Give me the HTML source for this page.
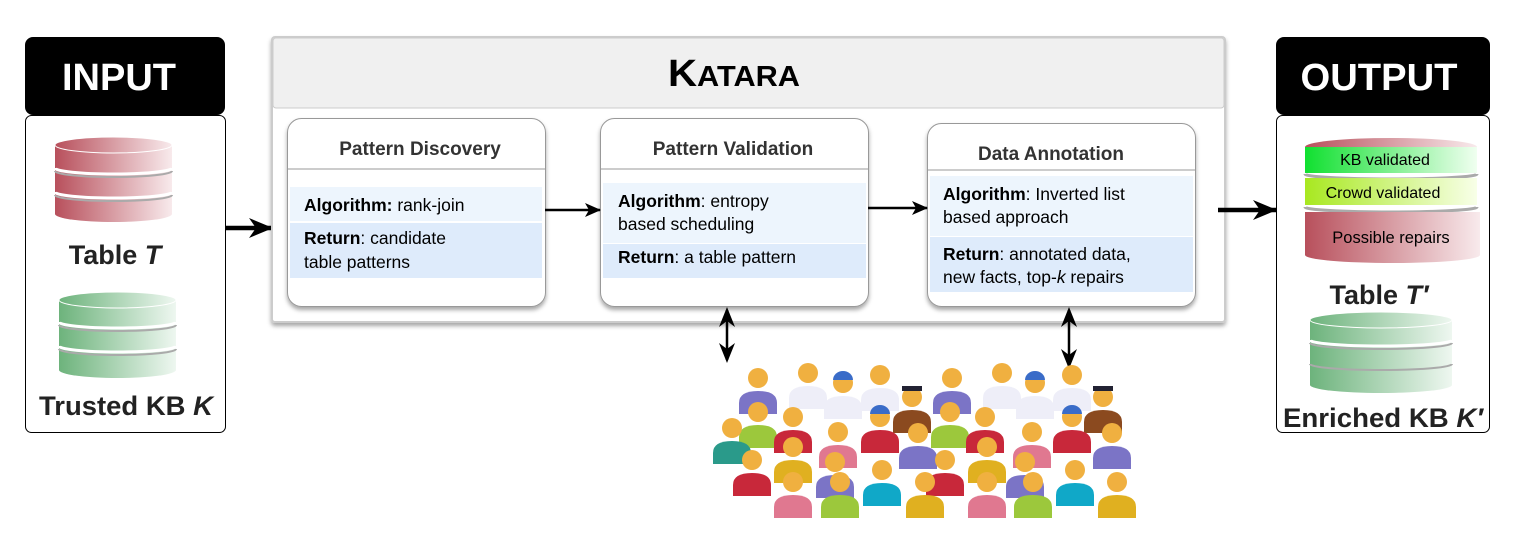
<!DOCTYPE html>
<html><head><meta charset="utf-8"><style>
body{margin:0;background:#fff;}
svg{display:block;font-family:"Liberation Sans",Arial,sans-serif;}
</style></head><body>
<svg width="1520" height="538" viewBox="0 0 1520 538" xmlns="http://www.w3.org/2000/svg">
<defs>
<linearGradient id="red" x1="0" x2="1"><stop offset="0" stop-color="#b8505c"/><stop offset="1" stop-color="#f8eaec"/></linearGradient>
<linearGradient id="grn" x1="0" x2="1"><stop offset="0" stop-color="#6db37c"/><stop offset="1" stop-color="#eef7f0"/></linearGradient>
<linearGradient id="kb" x1="0" x2="1"><stop offset="0" stop-color="#10e030"/><stop offset="1" stop-color="#f0fff0"/></linearGradient>
<linearGradient id="cw" x1="0" x2="1"><stop offset="0" stop-color="#a8e820"/><stop offset="1" stop-color="#f8ffe8"/></linearGradient>
<marker id="ah" markerWidth="16" markerHeight="14" refX="15" refY="7" orient="auto" markerUnits="userSpaceOnUse"><path d="M0,0 L16,7 L0,14 L4,7z" fill="#000"/></marker>
<marker id="ahb" markerWidth="24" markerHeight="22" refX="23" refY="11" orient="auto" markerUnits="userSpaceOnUse"><path d="M0,1 L24,11 L0,21 L7,11z" fill="#000"/></marker>
<filter id="sh" x="-5%" y="-5%" width="110%" height="115%"><feDropShadow dx="0" dy="3" stdDeviation="2" flood-color="#000" flood-opacity="0.35"/></filter>
</defs>

<!-- INPUT -->
<rect x="25" y="37" width="200" height="78" rx="8" fill="#000"/>
<text x="119" y="90" text-anchor="middle" font-size="38" font-weight="bold" fill="#fff" textLength="114" lengthAdjust="spacingAndGlyphs">INPUT</text>
<rect x="25.5" y="115.5" width="200" height="317" rx="6" fill="#fff" stroke="#000"/>
<g>
<path d="M55,145 A58.5,8 0 0 1 172,145 L172,214 A58.5,8 0 0 1 55,214 Z" fill="url(#red)"/>
<ellipse cx="113.5" cy="145" rx="58.5" ry="8" fill="url(#red)" stroke="#fff" stroke-width="1"/>
<path d="M55,168 A58.5,6 0 0 0 172,168" fill="none" stroke="#fff" stroke-width="3"/>
<path d="M55,171 A58.5,6 0 0 0 172,171" fill="none" stroke="#aaa" stroke-width="2"/>
<path d="M55,192 A58.5,6 0 0 0 172,192" fill="none" stroke="#fff" stroke-width="3"/>
<path d="M55,195 A58.5,6 0 0 0 172,195" fill="none" stroke="#aaa" stroke-width="2"/>
</g>
<text x="115" y="264" text-anchor="middle" font-size="27" font-weight="bold" fill="#222">Table <tspan font-style="italic">T</tspan></text>
<g>
<path d="M59,300 A58.5,8 0 0 1 176,300 L176,370 A58.5,8 0 0 1 59,370 Z" fill="url(#grn)"/>
<ellipse cx="117.5" cy="300" rx="58.5" ry="8" fill="url(#grn)" stroke="#fff"/>
<path d="M59,322 A58.5,6 0 0 0 176,322" fill="none" stroke="#fff" stroke-width="3"/>
<path d="M59,325 A58.5,6 0 0 0 176,325" fill="none" stroke="#aaa" stroke-width="2"/>
<path d="M59,346 A58.5,6 0 0 0 176,346" fill="none" stroke="#fff" stroke-width="3"/>
<path d="M59,349 A58.5,6 0 0 0 176,349" fill="none" stroke="#aaa" stroke-width="2"/>
</g>
<text x="126" y="415" text-anchor="middle" font-size="27" font-weight="bold" fill="#222" textLength="174" lengthAdjust="spacingAndGlyphs">Trusted KB <tspan font-style="italic">K</tspan></text>

<line x1="225" y1="228" x2="272" y2="228" stroke="#000" stroke-width="4.5" marker-end="url(#ahb)"/>

<!-- KATARA panel -->
<rect x="272" y="37" width="953" height="285" rx="3" fill="#fff" stroke="#ccc" stroke-width="2" filter="url(#sh)"/>
<rect x="273" y="38" width="951" height="70" rx="3" fill="#f0f0f0" stroke="#ccc"/>
<text x="734" y="86" text-anchor="middle" font-size="38" font-weight="bold" fill="#000" textLength="132" lengthAdjust="spacingAndGlyphs">K<tspan font-size="29">ATARA</tspan></text>

<g filter="url(#sh)">
<rect x="287.5" y="118.5" width="258" height="188" rx="14" fill="#fff" stroke="#999"/>
<rect x="600.5" y="118.5" width="268" height="188" rx="14" fill="#fff" stroke="#999"/>
<rect x="927.5" y="123.5" width="268" height="183" rx="14" fill="#fff" stroke="#999"/>
</g>
<text x="420" y="155" text-anchor="middle" font-size="19" font-weight="bold" fill="#333">Pattern Discovery</text>
<line x1="288" y1="169" x2="545" y2="169" stroke="#999"/>
<rect x="290" y="187" width="252" height="34" fill="#edf5fd"/>
<rect x="290" y="223" width="252" height="55" fill="#deebfb"/>
<text x="304" y="211" font-size="17.5" fill="#000"><tspan font-weight="bold">Algorithm:</tspan> rank-join</text>
<text x="304" y="244" font-size="17.5" fill="#000"><tspan font-weight="bold">Return</tspan>: candidate</text>
<text x="304" y="268" font-size="17.5" fill="#000">table patterns</text>
<text x="733" y="155" text-anchor="middle" font-size="19" font-weight="bold" fill="#333">Pattern Validation</text>
<line x1="601" y1="169" x2="868" y2="169" stroke="#999"/>
<rect x="603" y="183" width="263" height="60" fill="#edf5fd"/>
<rect x="603" y="244" width="263" height="34" fill="#deebfb"/>
<text x="618" y="207" font-size="17.5" fill="#000"><tspan font-weight="bold">Algorithm</tspan>: entropy</text>
<text x="618" y="230" font-size="17.5" fill="#000">based scheduling</text>
<text x="618" y="263" font-size="17.5" fill="#000"><tspan font-weight="bold">Return</tspan>: a  table pattern</text>
<text x="1051" y="160" text-anchor="middle" font-size="19" font-weight="bold" fill="#333">Data Annotation</text>
<line x1="928" y1="170" x2="1195" y2="170" stroke="#999"/>
<rect x="930" y="176" width="263" height="60" fill="#edf5fd"/>
<rect x="930" y="237" width="263" height="55" fill="#deebfb"/>
<text x="943" y="200" font-size="17.5" fill="#000"><tspan font-weight="bold">Algorithm</tspan>: Inverted list</text>
<text x="943" y="223" font-size="17.5" fill="#000">based approach</text>
<text x="943" y="260" font-size="17.5" fill="#000"><tspan font-weight="bold">Return</tspan>: annotated data,</text>
<text x="943" y="283" font-size="17.5" fill="#000">new facts, top-<tspan font-style="italic">k</tspan> repairs</text>

<line x1="545" y1="210" x2="600" y2="210" stroke="#000" stroke-width="2.5" marker-end="url(#ah)"/>
<line x1="868" y1="208" x2="927" y2="208" stroke="#000" stroke-width="2.5" marker-end="url(#ah)"/>
<line x1="1218" y1="210" x2="1276" y2="210" stroke="#000" stroke-width="4.5" marker-end="url(#ahb)"/>

<line x1="727" y1="310" x2="727" y2="360" stroke="#000" stroke-width="2.5"/>
<path d="M727,307 L719,327 L727,321 L735,327z M727,363 L719,343 L727,349 L735,343z" fill="#000"/>
<line x1="1069" y1="310" x2="1069" y2="366" stroke="#000" stroke-width="2.5"/>
<path d="M1069,307 L1061,327 L1069,321 L1077,327z M1069,369 L1061,349 L1069,355 L1077,349z" fill="#000"/>

<!-- OUTPUT -->
<rect x="1276" y="37" width="214" height="78" rx="8" fill="#000"/>
<text x="1379" y="90" text-anchor="middle" font-size="38" font-weight="bold" fill="#fff" textLength="157" lengthAdjust="spacingAndGlyphs">OUTPUT</text>
<rect x="1276.5" y="115.5" width="213" height="317" rx="6" fill="#fff" stroke="#000"/>
<ellipse cx="1391" cy="147" rx="86" ry="9" fill="url(#red)"/>
<rect x="1305" y="147" width="172" height="26" fill="url(#kb)"/>
<text x="1385" y="165" text-anchor="middle" font-size="16" fill="#000">KB validated</text>
<path d="M1305,174 A86,5 0 0 0 1477,174" fill="none" stroke="#aaa" stroke-width="3"/>
<rect x="1305" y="178" width="172" height="27" fill="url(#cw)"/>
<text x="1383" y="198" text-anchor="middle" font-size="16" fill="#000">Crowd validated</text>
<path d="M1305,207 A86,5 0 0 0 1477,207" fill="none" stroke="#aaa" stroke-width="3"/>
<path d="M1305,212 L1480,212 L1480,255 A87,8 0 0 1 1305,255 Z" fill="url(#red)"/>
<text x="1391" y="243" text-anchor="middle" font-size="16.5" fill="#000">Possible repairs</text>
<text x="1379" y="304" text-anchor="middle" font-size="27" font-weight="bold" fill="#222">Table <tspan font-style="italic">T′</tspan></text>
<g>
<path d="M1310,320 A71,8 0 0 1 1452,320 L1452,385 A71,8 0 0 1 1310,385 Z" fill="url(#grn)"/>
<ellipse cx="1381" cy="320" rx="71" ry="8" fill="url(#grn)" stroke="#fff"/>
<path d="M1310,340 A71,6 0 0 0 1452,340" fill="none" stroke="#fff" stroke-width="3"/>
<path d="M1310,343 A71,6 0 0 0 1452,343" fill="none" stroke="#aaa" stroke-width="2"/>
<path d="M1310,364 A71,6 0 0 0 1452,364" fill="none" stroke="#aaa" stroke-width="2"/>
</g>
<text x="1383" y="427" text-anchor="middle" font-size="27" font-weight="bold" fill="#222" textLength="200" lengthAdjust="spacingAndGlyphs">Enriched KB <tspan font-style="italic">K′</tspan></text>

<g id="crowd">
<path d="M739,403 q0,-12 19,-12 q19,0 19,12 v11 h-38z" fill="#7b74c6"/><circle cx="758" cy="378" r="10" fill="#f0b040"/>
<path d="M789,398 q0,-12 19,-12 q19,0 19,12 v11 h-38z" fill="#eeeef8"/><circle cx="808" cy="373" r="10" fill="#f0b040"/>
<path d="M824,408 q0,-12 19,-12 q19,0 19,12 v11 h-38z" fill="#eeeef8"/><circle cx="843" cy="383" r="10" fill="#f0b040"/><path d="M833,380 a10,9 0 0 1 20,0z" fill="#3a6cc8"/>
<path d="M861,400 q0,-12 19,-12 q19,0 19,12 v11 h-38z" fill="#eeeef8"/><circle cx="880" cy="375" r="10" fill="#f0b040"/>
<path d="M893,422 q0,-12 19,-12 q19,0 19,12 v11 h-38z" fill="#8b4a1f"/><circle cx="912" cy="397" r="10" fill="#f0b040"/><rect x="902" y="386" width="20" height="5" fill="#223"/>
<path d="M933,403 q0,-12 19,-12 q19,0 19,12 v11 h-38z" fill="#7b74c6"/><circle cx="952" cy="378" r="10" fill="#f0b040"/>
<path d="M983,398 q0,-12 19,-12 q19,0 19,12 v11 h-38z" fill="#eeeef8"/><circle cx="1002" cy="373" r="10" fill="#f0b040"/>
<path d="M1016,408 q0,-12 19,-12 q19,0 19,12 v11 h-38z" fill="#eeeef8"/><circle cx="1035" cy="383" r="10" fill="#f0b040"/><path d="M1025,380 a10,9 0 0 1 20,0z" fill="#3a6cc8"/>
<path d="M1053,400 q0,-12 19,-12 q19,0 19,12 v11 h-38z" fill="#eeeef8"/><circle cx="1072" cy="375" r="10" fill="#f0b040"/>
<path d="M1084,422 q0,-12 19,-12 q19,0 19,12 v11 h-38z" fill="#8b4a1f"/><circle cx="1103" cy="397" r="10" fill="#f0b040"/><rect x="1093" y="386" width="20" height="5" fill="#223"/>
<path d="M739,437 q0,-12 19,-12 q19,0 19,12 v11 h-38z" fill="#9cc83c"/><circle cx="758" cy="412" r="10" fill="#f0b040"/>
<path d="M774,442 q0,-12 19,-12 q19,0 19,12 v11 h-38z" fill="#c8283a"/><circle cx="793" cy="417" r="10" fill="#f0b040"/>
<path d="M861,442 q0,-12 19,-12 q19,0 19,12 v11 h-38z" fill="#c8283a"/><circle cx="880" cy="417" r="10" fill="#f0b040"/><path d="M870,414 a10,9 0 0 1 20,0z" fill="#3a6cc8"/>
<path d="M931,437 q0,-12 19,-12 q19,0 19,12 v11 h-38z" fill="#9cc83c"/><circle cx="950" cy="412" r="10" fill="#f0b040"/>
<path d="M966,442 q0,-12 19,-12 q19,0 19,12 v11 h-38z" fill="#c8283a"/><circle cx="985" cy="417" r="10" fill="#f0b040"/>
<path d="M1053,442 q0,-12 19,-12 q19,0 19,12 v11 h-38z" fill="#c8283a"/><circle cx="1072" cy="417" r="10" fill="#f0b040"/><path d="M1062,414 a10,9 0 0 1 20,0z" fill="#3a6cc8"/>
<path d="M713,453 q0,-12 19,-12 q19,0 19,12 v11 h-38z" fill="#2a9a8a"/><circle cx="732" cy="428" r="10" fill="#f0b040"/>
<path d="M819,457 q0,-12 19,-12 q19,0 19,12 v11 h-38z" fill="#e07890"/><circle cx="838" cy="432" r="10" fill="#f0b040"/>
<path d="M899,458 q0,-12 19,-12 q19,0 19,12 v11 h-38z" fill="#7b74c6"/><circle cx="918" cy="433" r="10" fill="#f0b040"/>
<path d="M1013,457 q0,-12 19,-12 q19,0 19,12 v11 h-38z" fill="#e07890"/><circle cx="1032" cy="432" r="10" fill="#f0b040"/>
<path d="M1093,458 q0,-12 19,-12 q19,0 19,12 v11 h-38z" fill="#7b74c6"/><circle cx="1112" cy="433" r="10" fill="#f0b040"/>
<path d="M774,472 q0,-12 19,-12 q19,0 19,12 v11 h-38z" fill="#e0b020"/><circle cx="793" cy="447" r="10" fill="#f0b040"/>
<path d="M968,472 q0,-12 19,-12 q19,0 19,12 v11 h-38z" fill="#e0b020"/><circle cx="987" cy="447" r="10" fill="#f0b040"/>
<path d="M733,485 q0,-12 19,-12 q19,0 19,12 v11 h-38z" fill="#c8283a"/><circle cx="752" cy="460" r="10" fill="#f0b040"/>
<path d="M816,487 q0,-12 19,-12 q19,0 19,12 v11 h-38z" fill="#7b74c6"/><circle cx="835" cy="462" r="10" fill="#f0b040"/>
<path d="M926,485 q0,-12 19,-12 q19,0 19,12 v11 h-38z" fill="#c8283a"/><circle cx="945" cy="460" r="10" fill="#f0b040"/>
<path d="M1006,487 q0,-12 19,-12 q19,0 19,12 v11 h-38z" fill="#7b74c6"/><circle cx="1025" cy="462" r="10" fill="#f0b040"/>
<path d="M774,507 q0,-12 19,-12 q19,0 19,12 v11 h-38z" fill="#e07890"/><circle cx="793" cy="482" r="10" fill="#f0b040"/>
<path d="M821,507 q0,-12 19,-12 q19,0 19,12 v11 h-38z" fill="#9cc83c"/><circle cx="840" cy="482" r="10" fill="#f0b040"/>
<path d="M863,495 q0,-12 19,-12 q19,0 19,12 v11 h-38z" fill="#10a8c8"/><circle cx="882" cy="470" r="10" fill="#f0b040"/>
<path d="M906,507 q0,-12 19,-12 q19,0 19,12 v11 h-38z" fill="#e0b020"/><circle cx="925" cy="482" r="10" fill="#f0b040"/>
<path d="M968,507 q0,-12 19,-12 q19,0 19,12 v11 h-38z" fill="#e07890"/><circle cx="987" cy="482" r="10" fill="#f0b040"/>
<path d="M1014,507 q0,-12 19,-12 q19,0 19,12 v11 h-38z" fill="#9cc83c"/><circle cx="1033" cy="482" r="10" fill="#f0b040"/>
<path d="M1056,495 q0,-12 19,-12 q19,0 19,12 v11 h-38z" fill="#10a8c8"/><circle cx="1075" cy="470" r="10" fill="#f0b040"/>
<path d="M1098,507 q0,-12 19,-12 q19,0 19,12 v11 h-38z" fill="#e0b020"/><circle cx="1117" cy="482" r="10" fill="#f0b040"/>
</g>
</svg>
</body></html>
